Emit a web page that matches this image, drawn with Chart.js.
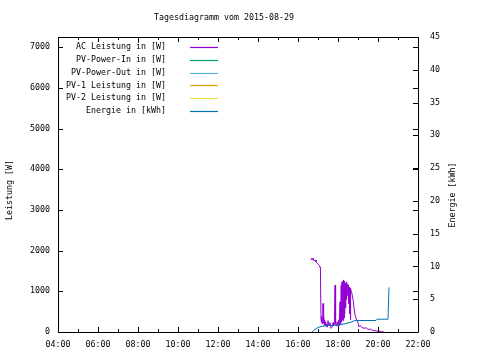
<!DOCTYPE html>
<html>
<head>
<meta charset="utf-8">
<script src="https://cdn.jsdelivr.net/npm/chart.js@4"></script>
<style>
  html, body { margin: 0; padding: 0; background: #fff; }
  #wrap { width: 480px; height: 360px; }
</style>
</head>
<body>
<div id="wrap"><canvas id="chart" width="480" height="360"></canvas></div>
<script>
// values (time in hours of day)
const acTime = [16.65,16.70,16.75,16.80,16.85,16.90,16.95,17.00,17.05,17.10,17.12,17.15,17.17,17.19,17.21,17.23,17.25,17.27,17.29,17.31,17.33,17.35,17.38,17.41,17.44,17.47,17.50,17.55,17.60,17.65,17.70,17.75,17.78,17.82,17.85,17.88,17.92,17.96,18.00,18.03,18.06,18.10,18.13,18.16,18.18,18.20,18.22,18.24,18.26,18.28,18.30,18.32,18.34,18.36,18.38,18.40,18.42,18.44,18.46,18.48,18.50,18.52,18.54,18.56,18.58,18.60,18.62,18.64,18.69,18.77,18.80,18.85,18.93,19.01,19.05,19.10,19.19,19.25,19.35,19.40,19.50,19.55,19.60,19.69,19.75,19.85,19.90,20.00,20.05,20.10,20.19,20.30];
const acWatt = [1820,1770,1820,1745,1770,1720,1695,1670,1645,1600,1570,300,240,380,200,260,700,220,420,170,300,160,250,140,200,120,280,150,230,90,120,230,150,200,1150,200,150,250,130,300,150,740,200,1150,250,1230,300,1250,280,1280,350,1250,450,1200,600,1150,800,1230,900,1180,1150,1110,700,1100,450,1080,300,1050,960,745,590,420,295,215,130,160,115,100,90,110,66,60,80,50,40,25,35,10,15,20,5,0];

const energyTime = [16.70,16.80,16.95,17.10,17.25,17.60,17.93,18.25,18.60,18.85,19.90,19.95,20.50,20.55];
const energyKwh = [0,0.3,0.6,0.8,0.9,1.0,1.05,1.2,1.45,1.75,1.75,1.95,1.95,6.8];

const hourTicks = [4, 6, 8, 10, 12, 14, 16, 18, 20, 22];
const wattTicks = [0, 1000, 2000, 3000, 4000, 5000, 6000, 7000];
const kwhTicks = [0, 5, 10, 15, 20, 25, 30, 35, 40, 45];

const seriesNames = ["AC Leistung in [W]", "PV-Power-In in [W]", "PV-Power-Out in [W]", "PV-1 Leistung in [W]", "PV-2 Leistung in [W]", "Energie in [kWh]"];
const seriesColors = ["#9400d3", "#009e73", "#56b4e9", "#e69f00", "#f0e442", "#0072b2"];

const MONO = "'DejaVu Sans Mono', 'Liberation Mono', monospace";
const FS = 8.3;

function pts(xs, ys) {
  return xs.map((x, i) => ({ x: x, y: ys[i] }));
}

function hh(v) {
  const h = Math.round(v);
  return (h < 10 ? "0" : "") + h + ":00";
}

function setTicks(list) {
  return s => { s.ticks = list.map(v => ({ value: v })); };
}

const datasets = seriesNames.map((name, i) => ({
  label: name,
  data: [],
  borderColor: seriesColors[i],
  borderWidth: 1,
  pointRadius: 0,
  tension: 0,
  yAxisID: "y",
  order: 1
}));
datasets[0].data = pts(acTime, acWatt);
datasets[5].data = pts(energyTime, energyKwh);
datasets[5].yAxisID = "y2";
datasets[5].order = 0;

// frame, inward ticks, title, axis titles, legend - gnuplot style
const gnuplotDecor = {
  id: "gnuplotDecor",
  afterDraw(chart) {
    const ctx = chart.ctx;
    const a = chart.chartArea;
    const sx = chart.scales.x, sy = chart.scales.y, sy2 = chart.scales.y2;
    ctx.save();
    ctx.strokeStyle = "#000";
    ctx.lineWidth = 1;
    ctx.beginPath();
    ctx.rect(Math.round(a.left) + 0.5, Math.round(a.top) + 0.5, Math.round(a.right - a.left), Math.round(a.bottom - a.top));
    ctx.stroke();

    ctx.beginPath();
    for (let h = 4; h <= 22; h++) {
      const px = Math.round(sx.getPixelForValue(h)) + 0.5;
      const len = h % 2 === 0 ? 5 : 3;
      ctx.moveTo(px, a.bottom); ctx.lineTo(px, a.bottom - len);
      ctx.moveTo(px, a.top); ctx.lineTo(px, a.top + len);
    }
    sy.ticks.forEach(t => {
      const py = Math.round(sy.getPixelForValue(t.value)) + 0.5;
      ctx.moveTo(a.left, py); ctx.lineTo(a.left + 5, py);
      ctx.moveTo(a.right, py); ctx.lineTo(a.right - 5, py);
    });
    sy2.ticks.forEach(t => {
      const py = Math.round(sy2.getPixelForValue(t.value)) + 0.5;
      ctx.moveTo(a.right, py); ctx.lineTo(a.right - 5, py);
    });
    ctx.stroke();

    ctx.fillStyle = "#000";
    ctx.font = FS + "px " + MONO;
    ctx.textAlign = "center";
    ctx.textBaseline = "middle";
    ctx.fillText("Tagesdiagramm vom 2015-08-29", 224, 18);

    ctx.save();
    ctx.translate(10, 190);
    ctx.rotate(-Math.PI / 2);
    ctx.fillText("Leistung [W]", 0, 0);
    ctx.restore();
    ctx.save();
    ctx.translate(453, 195);
    ctx.rotate(-Math.PI / 2);
    ctx.fillText("Energie [kWh]", 0, 0);
    ctx.restore();

    ctx.textAlign = "right";
    chart.data.datasets.forEach((ds, i) => {
      const y = 47 + i * 12.8;
      ctx.fillStyle = "#000";
      ctx.fillText(ds.label, 166, y);
      ctx.strokeStyle = ds.borderColor;
      ctx.lineWidth = 1.2;
      ctx.beginPath();
      ctx.moveTo(190, Math.round(y) + 0.5);
      ctx.lineTo(218, Math.round(y) + 0.5);
      ctx.stroke();
    });
    ctx.restore();
  }
};

const tickFont = { family: MONO, size: FS };

new Chart(document.getElementById("chart"), {
  type: "line",
  data: { datasets: datasets },
  options: {
    responsive: false,
    animation: false,
    layout: { padding: { top: 37, left: 0, right: 0, bottom: 0 } },
    plugins: { legend: { display: false }, tooltip: { enabled: false } },
    scales: {
      x: {
        type: "linear",
        min: 4,
        max: 22,
        afterBuildTicks: setTicks(hourTicks),
        ticks: { color: "#000", font: tickFont, padding: 8, maxRotation: 0, autoSkip: false, callback: v => hh(v) },
        grid: { display: false, drawTicks: false },
        border: { display: false },
        afterFit: s => { s.height = 28; }
      },
      y: {
        position: "left",
        min: 0,
        max: 7250,
        afterBuildTicks: setTicks(wattTicks),
        ticks: { color: "#000", font: tickFont, padding: 8, autoSkip: false, callback: v => String(v) },
        grid: { display: false, drawTicks: false },
        border: { display: false },
        afterFit: s => { s.width = 58; }
      },
      y2: {
        position: "right",
        min: 0,
        max: 45,
        afterBuildTicks: setTicks(kwhTicks),
        ticks: { color: "#000", font: tickFont, padding: 12, autoSkip: false, callback: v => String(v) },
        grid: { display: false, drawTicks: false },
        border: { display: false },
        afterFit: s => { s.width = 62; }
      }
    }
  },
  plugins: [gnuplotDecor]
});
</script>
</body>
</html>
